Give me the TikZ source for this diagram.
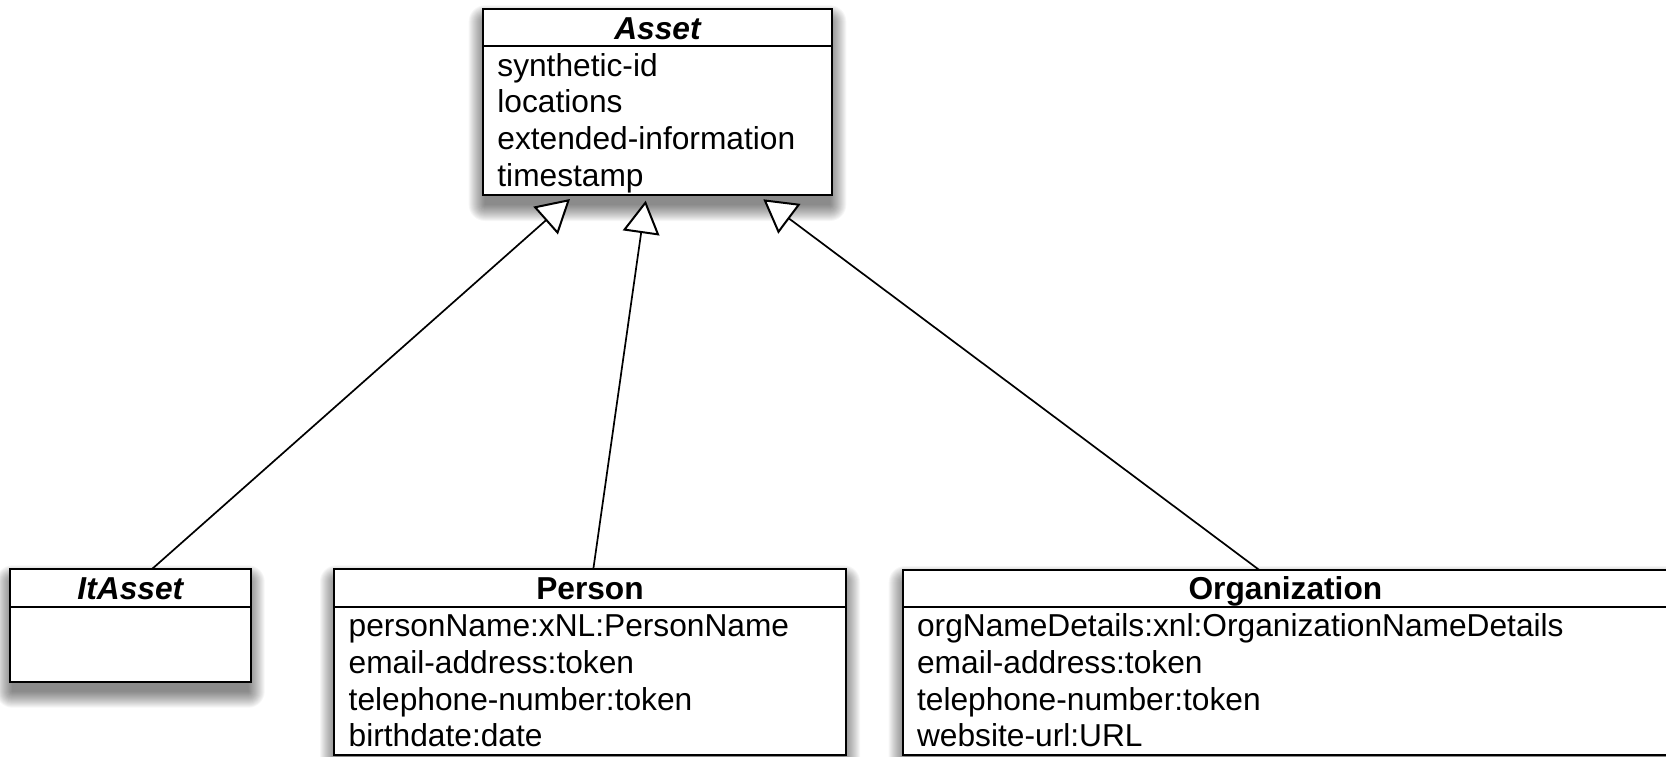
\documentclass[tikz,border=0pt]{standalone}
\usepackage{fontspec}
\setmainfont{Liberation Sans}
\usetikzlibrary{arrows.meta,calc,fit}
\newcommand\bshadow[4]{%
  \foreach \k in {0,...,16}{%
    \pgfmathsetmacro\rc{\k*0.5+0.2}%
    \fill[black,opacity=0.037,rounded corners=\rc pt]
      ({#1-\k+2},{#2-\k+12}) rectangle ({#3+\k-2},{#4+\k+10});
  }%
}
\begin{document}
\begin{tikzpicture}[x=0.5pt,y=-0.5pt,
  classbox/.style={draw=black,fill=white,line width=1pt,inner sep=0pt,outer sep=0pt,rectangle},
  sepline/.style={line width=1pt},
  headtxt/.style={anchor=base,inner sep=0pt,font=\fontsize{15.85}{18.35}\selectfont\bfseries},
  attr/.style={anchor=base west,inner sep=0pt,font=\fontsize{15.85}{18.35}\selectfont},
  gen/.style={line width=0.85pt,-{Triangle[length=16.3pt,width=18.4pt,fill=white,line width=1pt]}}
]
\useasboundingbox (0,0) rectangle (1666,756);
\clip (0,0) rectangle (1666,756);
% shadows
\bshadow{482.7}{9.3}{832.3}{195}
\bshadow{10}{569.3}{250.7}{681.7}
\bshadow{334}{569.3}{846}{755}
\bshadow{902.7}{570}{1668}{755}
% Asset
\node[classbox,fit={(482.7,9.3) (832.3,195)}] (asset) {};
\draw[sepline] (asset.west |- 0,46) -- (asset.east |- 0,46);
\node[headtxt] (assetH) at (657.5,39.3) {\itshape Asset};
\foreach \t [count=\i from 0] in {synthetic-id,locations,extended-information,timestamp}
  \node[attr] (asset-\i) at (497,{76+36.7*\i}) {\t};
% ItAsset
\node[classbox,fit={(10,569.3) (250.7,681.7)}] (itasset) {};
\draw[sepline] (itasset.west |- 0,607) -- (itasset.east |- 0,607);
\node[headtxt] (itassetH) at (130.35,599.3) {\itshape ItAsset};
% Person
\node[classbox,fit={(334,569.3) (846,755)}] (person) {};
\draw[sepline] (person.west |- 0,607) -- (person.east |- 0,607);
\node[headtxt] (personH) at (590,599.3) {Person};
\foreach \t [count=\i from 0] in {personName:xNL:PersonName,email-address:token,telephone-number:token,birthdate:date}
  \node[attr] (person-\i) at (348.3,{636.7+36.7*\i}) {\t};
% Organization
\node[classbox,fit={(902.7,570) (1668,755)}] (org) {};
\draw[sepline] (org.west |- 0,607) -- (org.east |- 0,607);
\node[headtxt] (orgH) at (1285.4,599.3) {Organization};
\foreach \t [count=\i from 0] in {orgNameDetails:xnl:OrganizationNameDetails,email-address:token,telephone-number:token,website-url:URL}
  \node[attr] (org-\i) at (916.7,{636.7+36.7*\i}) {\t};
% generalizations
\draw[gen] ($(itasset.north west)+(141.7,0)$) -- ($(asset.south west)+(87.3,4)$);
\draw[gen] ($(person.north west)+(259.3,0)$) -- ($(asset.south west)+(163,5.7)$);
\draw[gen] ($(org.north west)+(356.6,0)$) -- ($(asset.south west)+(280.6,4.3)$);
\end{tikzpicture}
\end{document}
